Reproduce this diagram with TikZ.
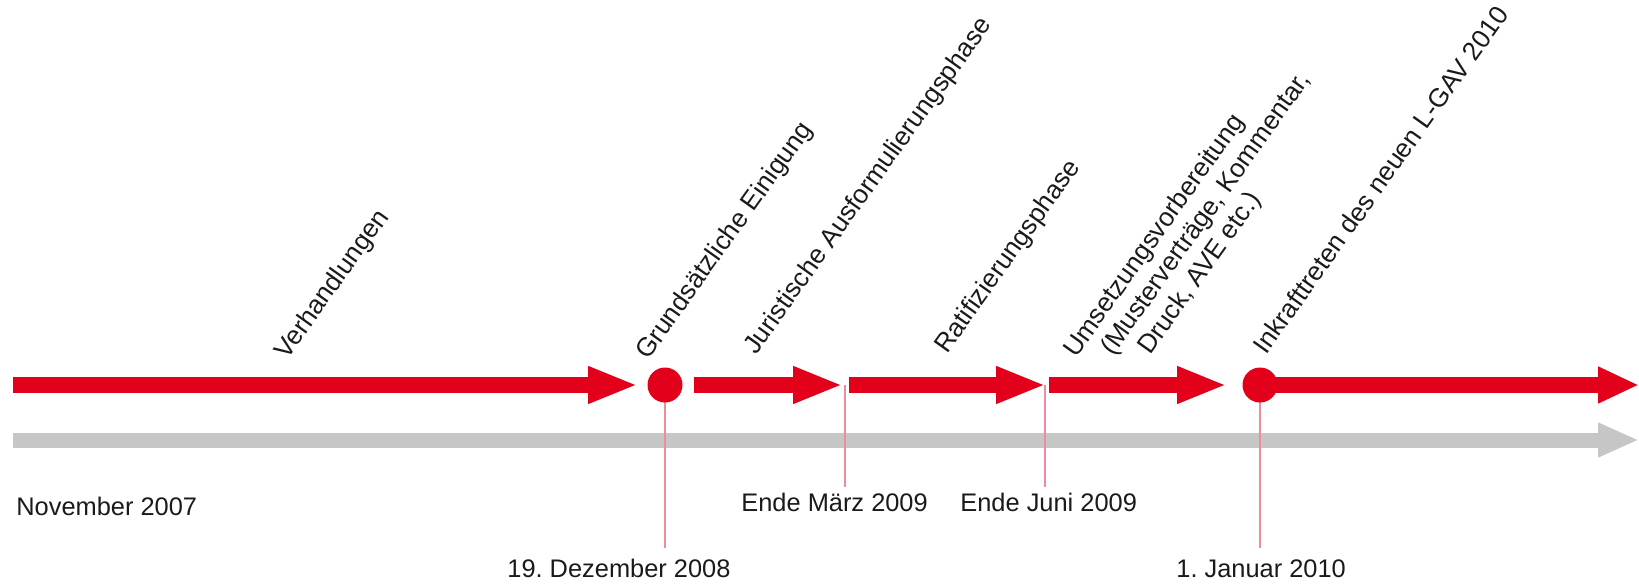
\documentclass[tikz,border=0pt]{standalone}
\usepackage{fontspec}
\setmainfont{Liberation Sans}
\usetikzlibrary{arrows.meta}
\definecolor{rd}{HTML}{E2001A}
\definecolor{gr}{HTML}{C6C6C6}
\definecolor{pk}{HTML}{EE8C9C}
\definecolor{tx}{HTML}{1A1A1A}
\frenchspacing
\begin{document}
\begin{tikzpicture}[x=0.5pt,y=-0.5pt,
  phase/.style={draw=rd, line width=8pt, -{Triangle[length=25pt,width=17pt]}},
  lastphase/.style={draw=rd, line width=8pt, -{Triangle[length=20.5pt,width=17pt]}},
  axis/.style={draw=gr, line width=7.5pt, -{Triangle[length=20.5pt,width=16pt]}},
  tick/.style={draw=pk, line width=0.7pt},
  dot/.style={circle, fill=rd, minimum size=17.5pt, inner sep=0pt},
  lbl/.style={font=\fontsize{12.7}{15}\selectfont, inner sep=0pt, anchor=base west, text=tx},
  rlbl/.style={lbl, font=\fontsize{13.1}{15.5}\selectfont, rotate=54.5}]
\useasboundingbox (0,0) rectangle (1639,584);

% coordinates
\coordinate (g0) at (13,440);
\coordinate (g1) at (1639,440);
\coordinate (a1s) at (13,385);
\coordinate (a1e) at (638,385);
\coordinate (a2s) at (694,385);
\coordinate (a2e) at (843,385);
\coordinate (a3s) at (849,385);
\coordinate (a3e) at (1046,385);
\coordinate (a4s) at (1049,385);
\coordinate (a4e) at (1227,385);
\coordinate (a5e) at (1639,385);
\coordinate (m1) at (845,385);
\coordinate (m2) at (1045,385);
\coordinate (t1) at (665,548);
\coordinate (t2) at (845,487);
\coordinate (t3) at (1045,487);
\coordinate (t4) at (1260,548);
\coordinate (c1p) at (665,385);
\coordinate (c2p) at (1260,385);

% time axis
\draw[axis] (g0) -- (g1);

% ticks
\draw[tick] (c1p) -- (t1);
\draw[tick] (m1) -- (t2);
\draw[tick] (m2) -- (t3);
\draw[tick] (c2p) -- (t4);

% phase arrows
\draw[phase] (a1s) -- (a1e);
\draw[phase] (a2s) -- (a2e);
\draw[phase] (a3s) -- (a3e);
\draw[phase] (a4s) -- (a4e);
\draw[lastphase] (c2p) -- (a5e);

\node[dot] (c1) at (c1p) {};
\node[dot] (c2) at (c2p) {};

% date labels
\node[lbl] (d0) at (16,515) {November 2007};
\node[lbl] (d1) at (507,577) {19. Dezember 2008};
\node[lbl] (d2) at (741,511) {Ende März 2009};
\node[lbl] (d3) at (960,511) {Ende Juni 2009};
\node[lbl] (d4) at (1176,577) {1. Januar 2010};

% phase labels
\node[rlbl] (p1) at (287,361) {Verhandlungen};
\node[rlbl] (p2) at (648,361) {Grundsätzliche Einigung};
\node[rlbl] (p3) at (756,356) {Juristische Ausformulierungsphase};
\node[rlbl] (p4) at (947,355) {Ratifizierungsphase};
\node[rlbl] (p5a) at (1076,359) {Umsetzungsvorbereitung};
\node[rlbl] (p5b) at (1113,357) {(Musterverträge, Kommentar,};
\node[rlbl] (p5c) at (1150,356) {Druck, AVE etc.)};
\node[rlbl] (p6) at (1266,356) {Inkrafttreten des neuen L-GAV 2010};
\end{tikzpicture}
\end{document}
